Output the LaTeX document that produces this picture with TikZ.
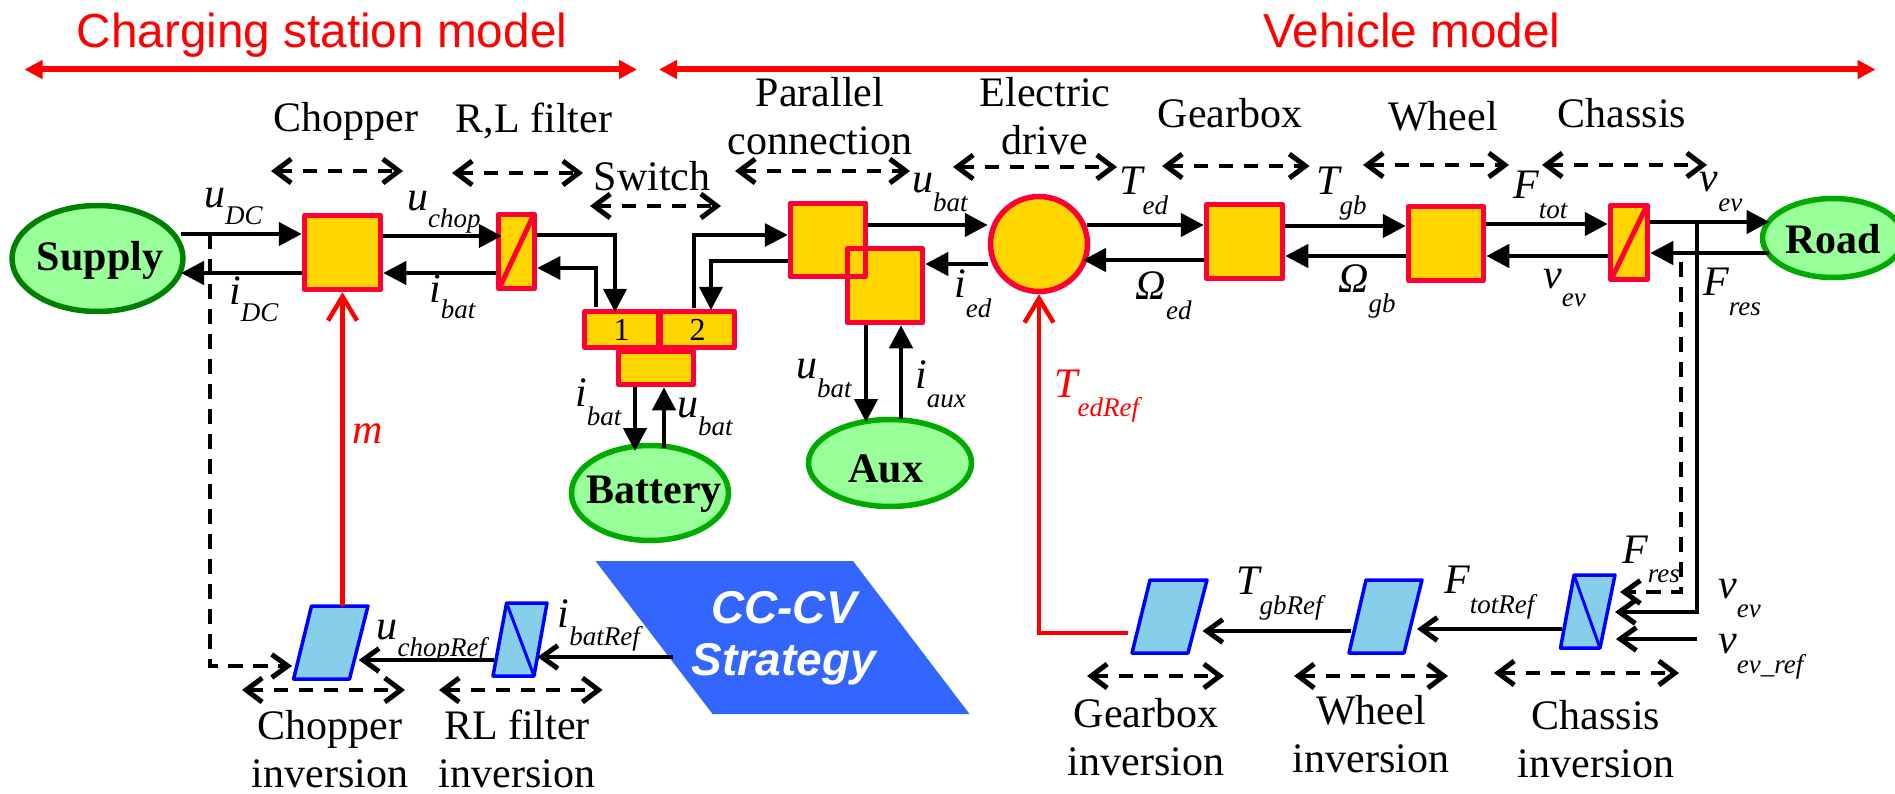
\documentclass[tikz,border=0pt]{standalone}
\usepackage{fontspec}
\setmainfont{Liberation Serif}
\newfontfamily\sansf{Liberation Sans}
\usetikzlibrary{arrows.meta,shapes.geometric,calc}
\definecolor{blkred}{HTML}{FF0033}
\definecolor{blkyel}{HTML}{FFD500}
\definecolor{lgreen}{HTML}{99FF99}
\definecolor{dgreen}{HTML}{008000}
\definecolor{mgreen}{HTML}{00AA00}
\definecolor{invblue}{HTML}{0000FF}
\definecolor{invfill}{HTML}{87CEEB}
\definecolor{ccblue}{HTML}{3366FF}
\tikzset{
  blk/.style={draw=blkred,fill=blkyel,line width=5.5pt,line join=round,inner sep=0pt},
  blkline/.style={draw=blkred,line width=5pt},
  src/.style={ellipse,fill=lgreen,line width=5.5pt,inner sep=0pt,draw=mgreen},
  inv/.style={draw=invblue,fill=invfill,line width=3.5pt,line join=round},
  invline/.style={draw=invblue,line width=3pt},
  txt/.style={anchor=base,inner sep=0pt,align=center,font=\fontsize{42}{48}\selectfont},
  boldt/.style={anchor=base,inner sep=0pt,font=\fontsize{42}{48}\selectfont\bfseries},
  vlab/.style={anchor=base west,inner sep=0pt,font=\fontsize{42}{48}\selectfont\itshape},
  arr/.style={line width=4.5pt,-{Triangle[length=23pt,width=23pt]}},
  arrthin/.style={line width=3.5pt,-{Triangle[length=23pt,width=23pt]}},
  oarr/.style={line width=4.5pt,-{Straight Barb[length=16pt,width=23pt,line width=5pt]}},
  redopen/.style={draw=red,line width=4.5pt,-{Straight Barb[length=24pt,width=29pt,line width=4.5pt]}},
  dbl/.style={line width=4.5pt,dash pattern=on 14pt off 11pt,{Straight Barb[length=16pt,width=24pt,line width=5pt]}-{Straight Barb[length=16pt,width=24pt,line width=5pt]}},
  span/.style={draw=red,line width=6pt,{Triangle[length=18pt,width=18pt]}-{Triangle[length=18pt,width=18pt]}},
  dasho/.style={line width=3.5pt,dash pattern=on 15pt off 10pt,-{Straight Barb[length=16pt,width=23pt,line width=5pt]}},
}
\newcommand{\vl}[7][black]{\node[vlab,text=#1] (#2) at (#3,#4) {#5\lower#7pt\hbox{\fontsize{27}{30}\selectfont #6}};}
% name, tl, tr, br, bl, style
\newcommand{\para}[6]{%
  \coordinate (#1-tl) at (#2); \coordinate (#1-tr) at (#3);
  \coordinate (#1-br) at (#4); \coordinate (#1-bl) at (#5);
  \coordinate (#1-e) at ($(#1-tr)!.5!(#1-br)$);
  \coordinate (#1-w) at ($(#1-tl)!.5!(#1-bl)$);
  \path[#6] (#1-tl) -- (#1-tr) -- (#1-br) -- (#1-bl) -- cycle;}
\begin{document}
\begin{tikzpicture}[x=1pt,y=-1pt]
\clip (0,0) rectangle (1895,794);
% titles
\node[anchor=base,inner sep=0pt,text=red,font=\fontsize{47.7}{50}\selectfont\sansf] (t1) at (322,48) {Charging station model};
\node[anchor=base,inner sep=0pt,text=red,font=\fontsize{47.7}{50}\selectfont\sansf] (t2) at (1412,48) {Vehicle model};
\coordinate (s1a) at (24.5,69.5); \coordinate (s1b) at (637,69.5);
\coordinate (s2a) at (659,69.5); \coordinate (s2b) at (1875.5,69.5);
\draw[span] (s1a) -- (s1b);
\draw[span] (s2a) -- (s2b);
% sources
\node[src,draw=dgreen,minimum width=171pt,minimum height=106pt] (sup) at (97.5,258.5) {};
\node[src,minimum width=157pt,minimum height=95pt] (bat) at (650,493) {};
\node[src,minimum width=163pt,minimum height=87pt] (aux) at (890,463) {};
\node[src,minimum width=141pt,minimum height=79pt] (road) at (1833,238) {};
\node[boldt] (suptxt) at (100,271) {Supply};
\node[boldt] (battxt) at (654,503) {Battery};
\node[boldt] (auxtxt) at (886,482) {Aux};
\node[boldt] (roadtxt) at (1833,254) {Road};
% blocks
\node[blk,minimum width=76pt,minimum height=74pt] (chop) at (342.5,252.5) {};
\node[blk,minimum width=36pt,minimum height=74pt] (filt) at (516.5,251.5) {};
\draw[blkline] ([xshift=4pt,yshift=4pt]filt.south west) -- ([xshift=-4pt,yshift=-4pt]filt.north east);
\node[blk,minimum width=75pt,minimum height=33pt] (s3) at (656,368) {};
\node[blk,minimum width=74pt,minimum height=36pt,font=\fontsize{32}{32}\selectfont] (s1) at (621.5,329.5) {1};
\node[blk,minimum width=74pt,minimum height=36pt,font=\fontsize{32}{32}\selectfont] (s2) at (697.5,329.5) {2};
\node[blk,minimum width=75pt,minimum height=73pt] (p1) at (828,240) {};
\node[blk,minimum width=75pt,minimum height=74pt] (p2) at (885,285.5) {};
\node[blk,fill=none,minimum width=75pt,minimum height=73pt] (p1o) at (828,240) {};
\node[blk,ellipse,minimum width=97pt,minimum height=95pt] (ed) at (1039,244) {};
\node[blk,minimum width=76pt,minimum height=74pt] (gb) at (1244.5,241.5) {};
\node[blk,minimum width=75pt,minimum height=74pt] (wh) at (1446,243.5) {};
\node[blk,minimum width=37pt,minimum height=74pt] (ch) at (1629,242.5) {};
\draw[blkline] ([xshift=4pt,yshift=4pt]ch.south west) -- ([xshift=-4pt,yshift=-4pt]ch.north east);
% inversion blocks
\para{chinv}{311.5,606}{368,606}{349.5,679}{293.6,679}{inv}
\para{rlinv}{506.6,603}{547,603}{534,676}{493,676}{inv}
\draw[invline] (rlinv-tl) -- (rlinv-br);
\para{cinv}{1574,575}{1615,575}{1600,648}{1560.5,648}{inv}
\draw[invline] (cinv-tl) -- (cinv-br);
\para{winv}{1366,580}{1422,580}{1404,653}{1349,653}{inv}
\para{ginv}{1150,580}{1207,580}{1188,653}{1132,653}{inv}
\para{cc}{595.5,561}{853,561}{969.5,714}{712.6,714}{fill=ccblue}
\node[anchor=base,inner sep=0pt,text=white,align=center,font=\fontsize{46}{52}\selectfont\sansf\bfseries\itshape] (cctxt) at (784,675) {CC-CV\\Strategy};
% forward connectors
\coordinate (supin) at (181,234); \coordinate (supout) at (181,273);
\draw[arr] (supin) -- (chop.west |- supin);
\draw[arr] (chop.west |- supout) -- (supout);
\draw[arr] (chop.east |- 0,236) -- ([xshift=6pt]filt.west |- 0,236);
\draw[arr] (filt.west |- 0,273) -- (chop.east |- 0,273);
\coordinate (s1in) at (615,312);
\draw[arrthin] (filt.east |- 0,235) -| (s1in);
\coordinate (s1out) at (596,307);
\draw[arrthin] (s1out) |- (filt.east |- 0,268);
\coordinate (s2out) at (694,308);
\draw[arrthin] (s2out) |- (p1.west |- 0,235);
\coordinate (s2in) at (711,310);
\draw[arrthin] (p1.west |- 0,261) -| (s2in);
\coordinate (ba) at (635,451); \coordinate (bb) at (664,448);
\draw[arr] (s3.south -| ba) -- (ba);
\draw[arr] (bb) -- (s3.south -| bb);
\draw[arr] (p1.east |- 0,225) -- (ed.west |- 0,225);
\draw[arr] (ed.west |- 0,264) -- (p2.east |- 0,264);
\coordinate (aa) at (866,422); \coordinate (ab) at (901,419);
\draw[arr] (p2.south -| aa) -- (aa);
\draw[arr] (ab) -- (p2.south -| ab);
\coordinate (edr) at (1086.5,225); \coordinate (edt) at (1083,260);
\draw[arr] (edr) -- (gb.west |- edr);
\draw[arr] (gb.west |- edt) -- (edt);
\draw[arr] (gb.east |- 0,226) -- (wh.west |- 0,226);
\draw[arr] (wh.west |- 0,256) -- (gb.east |- 0,256);
\draw[arr] (wh.east |- 0,224) -- (ch.west |- 0,224);
\draw[arr] (ch.west |- 0,256) -- (wh.east |- 0,256);
\coordinate (rda) at (1769.5,222); \coordinate (rdb) at (1769,253);
\draw[arr] (ch.east |- rda) -- (rda);
\draw[arr] (rdb) -- (ch.east |- rdb);
% red commands
\draw[redopen] (chop.south |- 0,606) -- (chop.south);
\draw[redopen] ([xshift=-13pt]ginv-w |- 0,633) -| (ed.south);
% inversion chain
\coordinate (vj) at (1697,222);
\coordinate (vjt) at (1615,612);
\coordinate (dt) at (1620,592); \coordinate (ds) at (1681,262);
\draw[oarr,line width=3.5pt] (vj) |- (vjt);
\draw[dasho] (ds) |- (dt);
\coordinate (vref) at (1697,639); \coordinate (vreft) at (1616,639);
\draw[oarr] (vref) -- (vreft);
\draw[oarr] ([xshift=-5pt]cinv-w |- 0,629) -- ([xshift=4pt]winv-e |- 0,629);
\draw[oarr] ([xshift=-7pt]winv-w |- 0,631) -- ([xshift=5pt]ginv-e |- 0,631);
\coordinate (ccout) at (673,657);
\draw[oarr] (ccout) -- ([xshift=-3pt]rlinv-e |- 0,657);
\draw[oarr] ([xshift=-6pt]rlinv-w |- 0,660) -- (chinv-e |- 0,660);
\coordinate (dj) at (210,234);
\draw[dasho] (dj) |- ([xshift=-10.5pt]chinv-w |- 0,666);
% double dashed spans
\draw[dbl] (271,171) -- (403,171);
\draw[dbl] (452,173) -- (583,173);
\draw[dbl] (590,206) -- (721,206);
\draw[dbl] (735,171) -- (910,171);
\draw[dbl] (953,167) -- (1117,167);
\draw[dbl] (1162,166) -- (1309.5,166);
\draw[dbl] (1363,165) -- (1509,165);
\draw[dbl] (1542,165) -- (1707,165);
\draw[dbl] (242,690) -- (405,690);
\draw[dbl] (439,690) -- (602.6,690);
\draw[dbl] (1087,676) -- (1224,676);
\draw[dbl] (1294,676) -- (1448,676);
\draw[dbl] (1494,673) -- (1679,673);
% captions
\node[txt] (c1) at (346,132) {Chopper};
\node[txt] (c2) at (534,133) {R,L filter};
\node[txt] (c3) at (652,191) {Switch};
\node[txt] (c4) at (820,155) {Parallel\\connection};
\node[txt] (c5) at (1045,155) {Electric\\drive};
\node[txt] (c6) at (1230,128) {Gearbox};
\node[txt] (c7) at (1443,131) {Wheel};
\node[txt] (c8) at (1622,128) {Chassis};
\node[txt] (c9) at (330,787) {Chopper\\inversion};
\node[txt] (c10) at (517,787) {RL filter\\inversion};
\node[txt] (c11) at (1146,775) {Gearbox\\inversion};
\node[txt] (c12) at (1371,772) {Wheel\\inversion};
\node[txt] (c13) at (1596,777) {Chassis\\inversion};
% variable labels
\vl{l1}{204}{208}{u}{DC}{17}
\vl{l2}{229}{305}{i}{DC}{17}
\vl{l3}{407}{211}{u}{chop}{17}
\vl{l4}{429}{302}{i}{bat}{17}
\vl{l5}{575}{406}{i}{bat}{19}
\vl{l6}{677}{417}{u}{bat}{18}
\vl{l7}{912}{193}{u}{bat}{19}
\vl{l8}{1119}{195}{T}{ed}{20}
\vl{l9}{954}{298}{i}{ed}{20}
\vl{l10}{1135.5}{300}{\char"03A9}{ed}{20}
\vl{l11}{796}{378}{u}{bat}{19}
\vl{l12}{915}{388}{i}{aux}{19}
\vl[red]{l13}{1054}{397}{T}{edRef}{19}
\node[vlab,text=red] (l14) at (352,443) {m};
\vl{l15}{1316}{195}{T}{gb}{20}
\vl{l16}{1513}{199}{F}{tot}{20}
\vl{l17}{1699.5}{192}{v}{ev}{20}
\vl{l18}{1338}{293}{\char"03A9}{gb}{20}
\vl{l19}{1543}{288}{v}{ev}{19}
\vl{l20}{1703}{296}{F}{res}{20}
\vl{l21}{1622}{563}{F}{res}{19}
\vl{l22}{1718}{598}{v}{ev}{19}
\vl{l23}{1718}{653}{v}{ev\_ref}{20}
\vl{l24}{1236}{594}{T}{gbRef}{20}
\vl{l25}{1444}{593}{F}{totRef}{20}
\vl{l26}{376.5}{639}{u}{chopRef}{17}
\vl{l27}{557.6}{627}{i}{batRef}{18}
\end{tikzpicture}
\end{document}
